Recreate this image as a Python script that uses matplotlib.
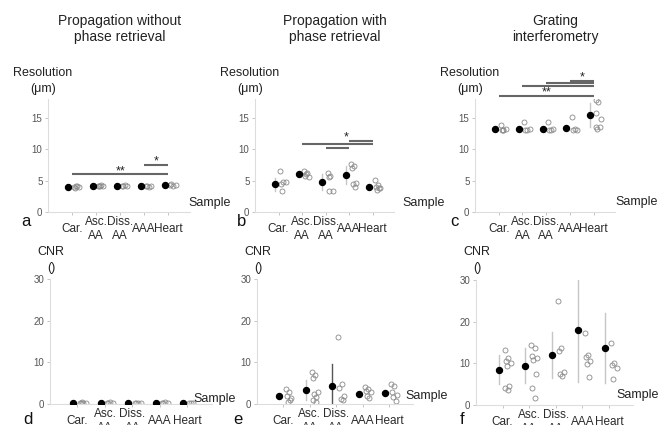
import numpy as np
import matplotlib
matplotlib.use("Agg")
import matplotlib.pyplot as plt

plt.rcParams["font.family"] = ["Liberation Sans", "DejaVu Sans"]

## ----------------------------------------------------------------------------
## Data

categories = ["Car.", "Asc.\nAA", "Diss.\nAA", "AAA", "Heart"]
titles = ["Propagation without\nphase retrieval",
          "Propagation with\nphase retrieval",
          "Grating\ninterferometry"]

## Resolution, propagation without phase retrieval
res_nopr_mean = [4.0, 4.2, 4.2, 4.1, 4.3]
res_nopr_lo = [3.9, 4.1, 4.1, 4.0, 4.2]
res_nopr_hi = [4.1, 4.3, 4.3, 4.2, 4.4]
res_nopr_pts = [[4.0, 4.1, 3.9, 4.0, 4.1],
                [4.2, 4.3, 4.1, 4.2, 4.1],
                [4.2, 4.3, 4.1, 4.2],
                [4.1, 4.0, 4.2, 4.1],
                [4.3, 4.2, 4.4, 4.3]]

## Resolution, propagation with phase retrieval
res_pr_mean = [4.4, 6.1, 4.8, 5.9, 4.0]
res_pr_lo = [3.4, 5.7, 3.5, 4.4, 3.7]
res_pr_hi = [5.4, 6.5, 6.1, 7.4, 4.3]
res_pr_pts = [[6.5, 4.8, 4.5, 4.7, 3.3],
              [6.5, 6.2, 5.8, 5.6, 6.0],
              [6.2, 5.8, 5.5, 3.3, 3.3],
              [7.7, 7.3, 7.0, 4.6, 4.4, 4.0],
              [5.1, 4.3, 4.0, 3.8, 3.5, 3.9]]

## Resolution, grating interferometry
res_gi_mean = [13.2, 13.3, 13.2, 13.35, 15.5]
res_gi_lo = [13.0, 13.0, 13.0, 13.0, 13.6]
res_gi_hi = [13.5, 13.6, 13.5, 13.7, 17.4]
res_gi_pts = [[13.8, 13.1, 13.0, 13.2, 13.0],
              [14.3, 13.1, 13.0, 13.2],
              [14.3, 13.1, 13.0, 13.2],
              [15.2, 13.2, 13.0, 13.1],
              [17.8, 17.6, 15.8, 14.8, 13.3, 13.6, 13.5]]

## CNR, propagation without phase retrieval
cnr_nopr_mean = [0.3, 0.3, 0.3, 0.3, 0.3]
cnr_nopr_lo = [0.2, 0.2, 0.2, 0.2, 0.2]
cnr_nopr_hi = [0.4, 0.4, 0.4, 0.4, 0.4]
cnr_nopr_pts = [[0.3, 0.3, 0.2, 0.3, 0.4],
                [0.3, 0.4, 0.3, 0.2],
                [0.3, 0.3, 0.2, 0.3],
                [0.3, 0.4, 0.3, 0.3],
                [0.3, 0.2, 0.3]]

## CNR, propagation with phase retrieval
cnr_pr_mean = [1.9, 3.4, 4.4, 2.5, 2.6]
cnr_pr_lo = [1.3, 1.0, 0.0, 2.0, 2.0]
cnr_pr_hi = [2.5, 5.8, 9.5, 3.0, 3.3]
cnr_pr_pts = [[3.5, 2.8, 2.0, 1.5, 0.5, 1.0],
              [7.6, 7.0, 6.3, 3.0, 2.5, 1.8, 1.0, 0.5],
              [16.2, 4.7, 3.8, 2.0, 1.2, 1.0],
              [4.0, 3.5, 3.2, 2.8, 2.0, 1.5],
              [4.7, 4.3, 3.0, 2.2, 1.7, 0.7]]

## CNR, grating interferometry
cnr_gi_mean = [8.4, 9.4, 12.0, 18.1, 13.6]
cnr_gi_lo = [5.0, 5.2, 6.4, 5.6, 5.3]
cnr_gi_hi = [12.0, 13.7, 17.5, 30.0, 22.0]
cnr_gi_pts = [[13.3, 11.2, 10.6, 10.0, 9.3, 4.6, 4.0, 3.5],
              [14.3, 13.6, 11.8, 11.2, 10.9, 7.4, 4.1, 1.8],
              [25.0, 13.6, 13.0, 8.0, 7.5, 7.0],
              [17.2, 12.0, 11.5, 10.5, 9.8, 6.7],
              [15.0, 10.2, 9.7, 9.0, 6.3]]

## Significance brackets: (from, to, level) and star labels
sig_a = [(1, 5, 6.0), (4, 5, 7.5)]
star_a = [("**", 3.0, 6.5), ("*", 4.5, 8.0)]
sig_b = [(2, 5, 10.8), (3, 4, 10.2), (4, 5, 11.3)]
star_b = [("*", 3.85, 11.8)]
sig_c = [(1, 5, 18.5), (2, 5, 20.0), (3, 5, 20.5), (4, 5, 20.9)]
star_c = [("**", 3.0, 19.0), ("*", 4.5, 21.5)]

##=============================================================================

W, H = 659, 425
JIT = np.array([0.08, 0.2, 0.12, 0.3, 0.16, 0.25, 0.1, 0.22])


def make_ax(fig, left, right, bot, top):
	return fig.add_axes([left/W, 1-bot/H, (right-left)/W, (bot-top)/H])


def draw_panel(ax, means, lo, hi, pts, ylim, yticks, errcol=None):
	xs = np.arange(1, 6)
	cols = errcol if errcol else ["#c6c6c6"]*5
	for i in range(5):
		ax.plot([xs[i]-0.15]*2, [lo[i], hi[i]], color=cols[i], lw=1.0, zorder=1)
	for i, vals in enumerate(pts):
		ax.plot(xs[i]+JIT[:len(vals)], vals, "o", mfc="none", mec="#8a8a8a",
			mew=0.6, ms=3.6, zorder=2)
	ax.plot(xs-0.15, means, "o", color="k", ms=4.3, zorder=3)

	ax.set_xlim(0, 5.9)
	ax.set_ylim(*ylim)
	ax.set_xticks(xs)
	ax.set_xticklabels(categories, fontsize=8.5, color="#2a2a2a", linespacing=1.25)
	ax.set_yticks(yticks)
	ax.tick_params(axis="x", length=2, width=0.6, color="#bbbbbb", pad=10)
	ax.tick_params(axis="y", length=2, width=0.6, color="#bbbbbb", pad=2,
		labelsize=7, labelcolor="#555555")
	plt.setp(ax.get_xticklabels(), va="center")
	for s in ["top", "right"]:
		ax.spines[s].set_visible(False)
	for s in ["left", "bottom"]:
		ax.spines[s].set_color("#dddddd")
		ax.spines[s].set_linewidth(0.8)
	ax.patch.set_alpha(0)


def draw_sig(ax, bars, stars):
	for x0, x1, y in bars:
		ax.plot([x0, x1], [y, y], color="#666666", lw=1.5, clip_on=False,
			solid_capstyle="butt", zorder=4)
	for lab, x, y in stars:
		ax.text(x, y, lab, ha="center", va="center", fontsize=9, color="#222222",
			clip_on=False)


def ftext(fig, x, y, s, **kw):
	fig.text(x/W, 1-y/H, s, **kw)


fig = plt.figure(figsize=(W/100, H/100), dpi=100)

## Axes geometry in pixels: left, right, bottom, top
top_geo = [(48, 190, 212, 99), (255, 394, 212, 99), (475, 615, 212, 99)]
bot_geo = [(50, 212, 404, 279), (257, 413, 404, 279), (476, 633, 405, 280)]

res_sets = [(res_nopr_mean, res_nopr_lo, res_nopr_hi, res_nopr_pts),
            (res_pr_mean, res_pr_lo, res_pr_hi, res_pr_pts),
            (res_gi_mean, res_gi_lo, res_gi_hi, res_gi_pts)]
cnr_sets = [(cnr_nopr_mean, cnr_nopr_lo, cnr_nopr_hi, cnr_nopr_pts),
            (cnr_pr_mean, cnr_pr_lo, cnr_pr_hi, cnr_pr_pts),
            (cnr_gi_mean, cnr_gi_lo, cnr_gi_hi, cnr_gi_pts)]
sigs = [(sig_a, star_a), (sig_b, star_b), (sig_c, star_c)]

top_letters = ["a", "b", "c"]
bot_letters = ["d", "e", "f"]
top_letter_xy = [(26, 222), (242, 222), (454, 222)]
bot_letter_xy = [(28, 419), (238, 419), (462, 419)]
top_sample_xy = [(188, 203), (402, 203), (615, 202)]
bot_sample_xy = [(193, 399), (405, 396), (616, 395)]
title_x = [120, 335, 555]

for k in range(3):
	## Resolution row
	l, r, b, t = top_geo[k]
	ax = make_ax(fig, l, r, b, t)
	m, lo, hi, pts = res_sets[k]
	draw_panel(ax, m, lo, hi, pts, (0, 18), [0, 5, 10, 15])
	draw_sig(ax, *sigs[k])
	ftext(fig, l-5, 81, "Resolution\n(\u03bcm)", ha="center", va="center",
		fontsize=9, color="#222222", linespacing=1.35)
	ftext(fig, top_sample_xy[k][0], top_sample_xy[k][1], "Sample", ha="left",
		va="center", fontsize=9, color="#222222")
	ftext(fig, top_letter_xy[k][0], top_letter_xy[k][1], top_letters[k],
		ha="center", va="center", fontsize=12, color="#111111")

	## CNR row
	l, r, b, t = bot_geo[k]
	ax = make_ax(fig, l, r, b, t)
	m, lo, hi, pts = cnr_sets[k]
	errcol = ["#c6c6c6", "#c6c6c6", "#555555", "#c6c6c6", "#c6c6c6"] if k == 1 else None
	draw_panel(ax, m, lo, hi, pts, (0, 30), [0, 10, 20, 30], errcol)
	ftext(fig, l+1, 260, "CNR\n()", ha="center", va="center",
		fontsize=9, color="#222222", linespacing=1.35)
	ftext(fig, bot_sample_xy[k][0], bot_sample_xy[k][1], "Sample", ha="left",
		va="center", fontsize=9, color="#222222")
	ftext(fig, bot_letter_xy[k][0], bot_letter_xy[k][1], bot_letters[k],
		ha="center", va="center", fontsize=12, color="#111111")

	## Column title
	ftext(fig, title_x[k], 29, titles[k], ha="center", va="center",
		fontsize=10, color="#222222", linespacing=1.25)

fig.savefig("out.png", dpi=100)
